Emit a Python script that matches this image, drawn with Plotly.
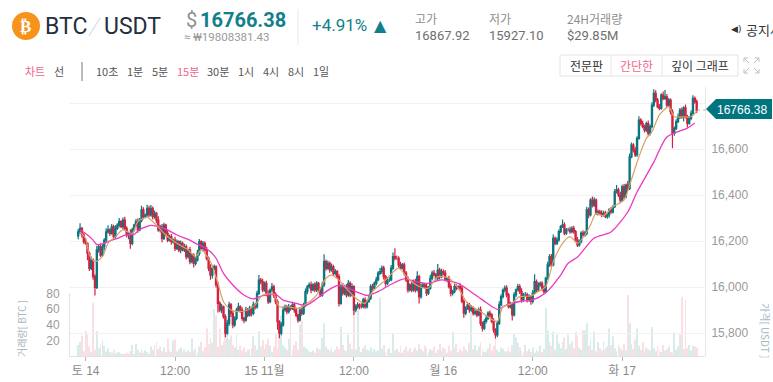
import pandas as pd
import plotly.graph_objects as go

W, H = 773, 382
first_bar = "2020-11-13 23:00"

closes = [
16240,16255,16226,16197,16190,16146,16081,16117,16045,15998,
16161,16175,16139,16175,16204,16240,16248,16233,16262,16219,
16255,16269,16284,16262,16291,16255,16226,16233,16190,16248,
16269,16284,16248,16291,16335,16306,16313,16342,16313,16342,
16306,16320,16291,16248,16262,16211,16269,16233,16204,16219,
16197,16204,16168,16197,16161,16190,16161,16175,16132,16161,
16110,16139,16103,16117,16146,16197,16168,16190,16161,16124,
16081,16052,16081,16088,16009,15929,15900,15914,15871,15799,
15842,15922,15885,15835,15864,15900,15914,15900,15864,15856,
15900,15878,15907,15885,15922,15914,15972,16030,16023,15987,
16016,15972,15936,15987,16001,15965,15936,15849,15799,15835,
15900,15914,15893,15914,15907,15922,15900,15878,15856,15900,
15885,15922,15980,16001,16009,15987,16009,15987,16016,15987,
15965,16009,16110,16081,16103,16074,16088,16059,16067,16045,
15929,16002,15973,16002,15966,16016,15966,16002,15900,15915,
15922,15915,15915,15944,15915,15937,15951,16002,15995,16016,
16031,16060,16067,16082,16045,16016,16031,16031,16082,16132,
16125,16125,16096,16082,16096,16060,16031,15987,16009,15987,
16024,15987,16045,15958,16002,16009,16002,15973,15995,16038,
16060,16053,16038,16074,16045,16067,16060,16031,16038,16002,
15973,15980,16002,15995,16002,15995,15937,15886,15908,15922,
15900,15908,15886,15893,15879,15900,15842,15821,15850,15864,
15886,15879,15850,15813,15792,15842,15922,15958,15987,15995,
15966,15915,15922,15879,15966,15987,16002,15980,15944,15966,
15966,15944,15958,15937,15973,16023,15987,16009,16016,15995,
15980,16038,16096,16132,16096,16212,16190,16205,16241,16263,
16270,16234,16248,16248,16241,16255,16241,16205,16183,16197,
16234,16226,16234,16335,16313,16378,16356,16378,16320,16327,
16320,16313,16320,16306,16313,16335,16327,16349,16414,16422,
16400,16378,16436,16392,16443,16429,16566,16617,16595,16574,
16646,16726,16711,16697,16682,16711,16668,16697,16791,16842,
16813,16784,16777,16834,16820,16827,16791,16813,16762,16668,
16690,16719,16740,16769,16740,16779,16740,16711,16733,16755,
16820,16806,16766.38]

upper_wicks = [
12,22,6,9,14,5,8,16,7,10,
18,9,14,11,8,15,20,7,12,9,
13,8,16,6,11,14,9,7,18,10,
6,12,15,9,18,12,7,16,11,14,
8,13,6,17,9,12,10,6,14,8,
11,7,15,9,6,12,8,13,10,5,
14,9,7,11,16,12,6,10,8,14,
9,18,12,10,7,15,9,13,6,11,
16,14,8,12,9,10,18,7,12,6,
14,9,11,8,15,10,12,22,9,13,
8,11,14,7,16,9,12,10,6,13,
15,10,8,12,7,14,9,11,6,13,
12,10,14,8,11,15,7,12,9,6,
13,14,32,10,12,8,14,9,11,7,
12,10,15,8,11,14,9,13,6,10,
12,7,14,9,11,6,13,10,12,8,
14,9,16,12,10,7,13,11,14,18,
36,12,9,14,8,11,10,16,7,13,
9,12,24,8,14,10,7,12,9,15,
11,14,8,26,10,12,9,14,7,11,
13,8,12,10,6,14,9,11,8,12,
10,14,7,12,9,11,15,8,10,13,
9,12,7,14,8,11,16,10,6,12,
13,8,14,9,11,7,12,10,15,8,
12,9,11,7,14,32,10,12,8,9,
11,7,14,10,12,16,8,11,9,7,
24,12,8,10,14,9,11,7,12,10,
8,13,9,14,11,8,16,12,7,10,
9,14,11,12,8,7,13,6,12,22,
10,14,9,12,7,18,15,11,8,14,
10,16,8,12,9,7,13,10,12,18,
14,9,12,8,16,30,12,9,7,11,
8,10,14,9,12,7,15,9,11,13,
14,8,9]

lower_wicks = [
14,8,12,9,6,30,11,8,14,35,
7,12,9,6,15,8,7,11,6,14,
9,7,10,6,12,8,11,18,24,9,
7,8,12,6,9,11,7,8,10,6,
12,9,14,8,11,16,7,12,9,6,
13,8,11,7,10,14,6,9,12,8,
11,7,18,9,6,10,8,13,7,9,
12,20,15,8,11,40,10,14,9,18,
7,12,15,14,8,9,6,12,11,14,
7,10,6,13,8,12,9,7,11,10,
8,12,10,7,9,13,11,35,22,9,
8,6,11,8,10,7,12,9,11,6,
10,7,9,12,8,14,6,10,9,12,
8,7,9,10,6,12,8,11,9,8,
14,6,10,9,12,8,11,7,22,10,
9,12,8,7,10,9,6,8,11,7,
9,6,8,10,12,14,7,9,6,8,
9,7,11,8,6,10,9,12,7,10,
8,11,7,30,9,6,10,12,8,7,
9,6,10,8,12,7,9,6,10,8,
14,10,7,9,6,11,8,20,9,7,
12,8,10,9,11,6,12,14,8,9,
7,10,8,12,16,9,7,6,8,10,
12,9,8,25,7,9,6,10,12,8,
7,11,8,14,9,6,10,7,8,11,
9,6,7,8,11,6,9,7,8,6,
7,9,8,6,10,7,9,12,9,8,
7,6,8,9,14,6,10,8,7,9,
8,10,7,6,9,12,8,7,6,8,
9,14,7,10,6,12,7,6,10,9,
8,6,9,7,10,8,12,9,7,8,
10,7,9,6,8,7,10,9,12,65,
10,7,6,9,8,20,7,18,6,8,
6,9,10]

volumes = [
14,18,26,6,32,27,12,5,68,8,
32,10,15,20,13,6,10,5,4,8,
3,4,5,3,2,3,4,2,6,14,
3,16,8,4,9,4,7,5,3,12,
8,14,18,9,12,6,11,5,22,7,
5,20,21,6,9,11,4,8,5,7,
5,23,8,10,4,12,18,6,11,35,
15,23,17,60,52,12,35,14,19,28,
33,21,26,14,11,27,8,13,7,11,
5,8,9,10,25,14,8,32,12,20,
9,15,22,13,5,12,28,10,35,52,
14,11,8,22,55,8,14,19,8,40,
45,12,10,9,6,5,7,4,11,8,
9,23,42,12,9,7,11,5,8,12,
9,37,14,7,6,27,16,9,65,8,
65,12,5,10,14,8,7,11,5,9,
6,7,75,9,14,5,8,10,4,29,
7,9,5,13,4,8,12,6,10,5,
8,11,7,15,9,6,13,10,5,9,
7,12,4,8,16,6,11,9,4,13,
7,31,10,16,5,9,6,12,8,5,
17,63,9,14,7,12,18,8,5,6,
10,16,7,13,27,8,5,11,9,6,
6,12,5,14,29,24,17,11,7,4,
14,6,9,5,11,4,8,6,13,5,
9,61,33,18,13,31,8,27,16,10,
18,24,9,27,15,19,10,31,26,11,
8,33,33,42,13,20,8,31,6,18,
10,7,19,9,12,35,14,25,10,6,
14,11,8,16,7,78,42,15,9,21,
35,13,8,18,6,11,9,7,37,10,
6,13,8,5,14,7,9,12,5,4,
30,8,12,27,75,9,72,10,14,7,
13,12,11]

ma_short_bars = [
1,4,6,9,13,16,20,24,29,32,37,42,47,53,59,63,66,71,75,78,82,86,91,95,99,105,108,113,118,123,
128,133,136,140,143,149,154,158,165,172,177,183,188,193,199,204,209,213,216,221,225,228,232,237,243,247,251,255,260,264,
268,272,275,278,282,287,293,296,301,305,308,312,317,320,324,329,332]
ma_short_values = [
16240,16211,16139,16110,16132,16190,16219,16248,16233,16284,16303,16269,16226,16190,16161,16132,16161,16110,16016,15936,15900,15893,15900,15922,15965,15968,15914,15914,15907,15929,
15965,16038,16052,16030,16002,15951,15929,15980,16031,16082,16038,16002,15995,16045,16038,15995,15929,15908,15893,15864,15850,15915,15925,15958,15961,15980,16002,16110,16190,16219,
16190,16226,16270,16320,16310,16349,16378,16443,16566,16646,16675,16748,16784,16740,16740,16740,16765]

ma_long_bars = [
1,4,8,10,13,17,21,25,30,33,39,42,48,53,59,63,67,71,74,78,83,89,94,99,106,110,117,122,127,133,
139,143,149,155,161,168,175,181,188,195,204,210,217,225,230,237,244,251,259,263,268,277,286,295,300,309,316,327,331]
ma_long_values = [
16248,16233,16204,16185,16187,16201,16211,16226,16229,16250,16268,16265,16248,16226,16207,16190,16175,16153,16125,16059,16009,15965,15948,15962,15968,15943,15929,15919,15943,15980,
16006,16002,15980,15963,15980,16012,16035,16024,16016,16031,16016,15984,15944,15903,15922,15937,15944,15975,16052,16103,16130,16213,16239,16326,16413,16543,16652,16691,16713]

price_ticks = [15800, 16000, 16200, 16400, 16600, 16800]
volume_ticks = [20, 40, 60, 80]
time_ticks = ["2020-11-14 00:00", "2020-11-14 12:00", "2020-11-15 00:00", "2020-11-15 12:00",
              "2020-11-16 00:00", "2020-11-16 12:00", "2020-11-17 00:00"]
time_labels = ["토 14", "12:00", "15 11월", "12:00", "월 16", "12:00", "화 17"]

TEAL, RED = "#0b7680", "#d4213f"
PINK = "#f0688c"
GREY, SOFT = "#8f8f8f", "#a9b8c2"
KR = "'Noto Sans CJK KR','Noto Sans',sans-serif"
DIN = "Roboto,'Noto Sans CJK KR',sans-serif"
AX = "'Liberation Sans','Noto Sans CJK KR',sans-serif"

times = pd.date_range(first_bar, periods=len(closes), freq="15min")
opens = [16222] + closes[:-1]
highs = [max(o, c) + u for o, c, u in zip(opens, closes, upper_wicks)]
lows = [min(o, c) - l for o, c, l in zip(opens, closes, lower_wicks)]
vol_colors = ["#d8ecec" if c >= o else "#fbe0e3" for o, c in zip(opens, closes)]

fig = go.Figure()
fig.add_trace(go.Bar(x=times, y=volumes, marker=dict(color=vol_colors, line_width=0), yaxis="y", xaxis="x"))
fig.add_trace(go.Candlestick(
    x=times, open=opens, high=highs, low=lows, close=closes, xaxis="x", yaxis="y2", whiskerwidth=0,
    increasing=dict(line=dict(color=TEAL, width=1.2), fillcolor=TEAL),
    decreasing=dict(line=dict(color=RED, width=1.2), fillcolor=RED)))
fig.add_trace(go.Scatter(x=times[ma_long_bars], y=ma_long_values, mode="lines", xaxis="x", yaxis="y2",
                         line=dict(color="#ee38bf", width=1.3, shape="spline", smoothing=0.7)))
fig.add_trace(go.Scatter(x=times[ma_short_bars], y=ma_short_values, mode="lines", xaxis="x", yaxis="y2",
                         line=dict(color="#d9a263", width=1.2, shape="spline", smoothing=0.7)))


def px(x):
    return x / W


def py(y):
    return 1 - y / H


annotations = []


def text(x, y, s, size, color, anchor="left", family=KR, angle=0):
    annotations.append(dict(xref="paper", yref="paper", x=px(x), y=py(y), text=s, showarrow=False,
                            xanchor=anchor, yanchor="middle", textangle=angle, borderpad=0, borderwidth=0,
                            font=dict(size=size, color=color, family=family)))


shapes = []


def box(x0, y0, x1, y1, **kw):
    shapes.append(dict(xref="paper", yref="paper", x0=px(x0), x1=px(x1), y0=py(y0), y1=py(y1), **kw))


def path(points, **kw):
    d = "M" + " L".join(f"{px(a):.5f},{py(b):.5f}" for a, b in points)
    shapes.append(dict(xref="paper", yref="paper", type="path", path=d, **kw))


# header
box(12, 12, 40, 40, type="circle", fillcolor="#f7931a", line_width=0)
text(26, 26, "<b>₿</b>", 17, "white", "center", "'DejaVu Sans'")
text(45, 27, "BTC", 23, "#232f3a", family=DIN)
path([(89, 36), (100, 18)], line=dict(color="#cfd2d6", width=1))
text(104, 27, "USDT", 23, "#232f3a", family=DIN)
text(186, 20, "$", 20, GREY, family=DIN)
text(200, 20, "<b>16766.38</b>", 20, "#12808a", family=DIN)
text(184, 37, "≈ ₩19808381.43", 11.5, "#9a9a9a", family=DIN)
box(298, 9, 298, 45, type="line", line=dict(color="#e8e8e8", width=1))
text(312, 25, "+4.91%", 17, "#12808a", family=DIN)
text(374, 25, "▲", 16, "#12808a", family="'DejaVu Sans'")
for x, head, value in [(415, "고가", "16867.92"), (489, "저가", "15927.10"), (567, "24H거래량", "$29.85M")]:
    text(x, 19, head, 12, "#8e8e8e")
    text(x, 36, value, 13, "#6f6f6f", family=DIN)
text(731, 29, "◀)", 9, "#333333", family="'DejaVu Sans'")
text(746, 29, "공지사", 13, "#333333")

# period row
text(25, 71, "차트", 11, PINK)
text(54, 71, "선", 11, "#555555")
box(82, 62, 82, 81, type="line", line=dict(color="#777777", width=1))
for x, label, color in [(96, "10초", "#555555"), (127, "1분", "#555555"), (152, "5분", "#555555"),
                        (177, "15분", PINK), (207, "30분", "#555555"), (238, "1시", "#555555"),
                        (263, "4시", "#555555"), (288, "8시", "#555555"), (313, "1일", "#555555")]:
    text(x, 71, label, 11, color)

# view buttons
box(560, 55, 738, 76, type="rect", line=dict(color="#e4e4e4", width=1), fillcolor="white")
box(611, 55, 611, 76, type="line", line=dict(color="#e4e4e4", width=1))
box(662, 55, 662, 76, type="line", line=dict(color="#e4e4e4", width=1))
text(586, 65, "전문판", 12, "#333333", "center")
text(636, 65, "간단한", 12, PINK, "center")
text(700, 65, "깊이 그래프", 12, "#333333", "center")
icon = dict(line=dict(color="#b5c2c9", width=1))
path([(744, 58), (749, 63)], **icon); path([(744, 58), (748, 58)], **icon); path([(744, 58), (744, 62)], **icon)
path([(759, 58), (754, 63)], **icon); path([(759, 58), (755, 58)], **icon); path([(759, 58), (759, 62)], **icon)
path([(744, 73), (749, 68)], **icon); path([(744, 73), (748, 73)], **icon); path([(744, 73), (744, 69)], **icon)
path([(759, 73), (754, 68)], **icon); path([(759, 73), (755, 73)], **icon); path([(759, 73), (759, 69)], **icon)

# last price flag
box(697, 110, 706, 110, type="line", line=dict(color="#b8b8b8", width=1, dash="dot"))
path([(706, 109), (716, 99), (772, 99), (772, 119), (716, 119), (706, 109)], fillcolor="#00757f", line_width=0)
text(742, 109.5, "16766.38", 12, "white", "center", AX)

# axis captions
text(21, 329, "거래량[ BTC ]", 10, SOFT, "center", angle=-90)
text(766, 330, "가격[ USDT ]", 10, SOFT, "center", angle=90)

tick_font = dict(size=12, color="#9a9a9a", family=AX)
fig.update_layout(
    width=W, height=H, autosize=False, showlegend=False, bargap=0.55, boxgap=0.1,
    margin=dict(l=0, r=0, t=0, b=0), paper_bgcolor="white", plot_bgcolor="rgba(0,0,0,0)",
    annotations=annotations, shapes=shapes,
    xaxis=dict(domain=[px(70), px(705)], type="date", range=["2020-11-13 21:54", "2020-11-17 11:07"],
               automargin=False, rangeslider=dict(visible=False), anchor="y", showgrid=False, zeroline=False,
               showline=True, linecolor="#e2e2e2", linewidth=1,
               tickmode="array", tickvals=time_ticks, ticktext=time_labels, ticks="outside",
               ticklen=4, tickcolor="#b5b5b5", tickfont=dict(size=12, color="#8a8a8a", family=AX)),
    yaxis=dict(domain=[py(356), py(293)], range=[0, 80.5], side="left", anchor="x", showgrid=False, zeroline=False,
               automargin=False, showline=True, linecolor="#e2e2e2", linewidth=1,
               tickmode="array", tickvals=volume_ticks, ticks="", ticklabelstandoff=7, tickfont=tick_font),
    yaxis2=dict(domain=[py(356), py(87)], range=[15700, 16869.6], side="right", anchor="x", showgrid=True,
                automargin=False, gridcolor="#f1f1f1", gridwidth=1, zeroline=False, showline=True,
                linecolor="#e8e8e8", linewidth=1,
                tickmode="array", tickvals=price_ticks, ticktext=[f"{t:,}" for t in price_ticks[:-1]] + [""],
                ticks="", ticklabelstandoff=3, tickfont=tick_font),
)
fig.write_html("out.html", config=dict(displayModeBar=False),
               post_script="document.body.style.margin='0';")
